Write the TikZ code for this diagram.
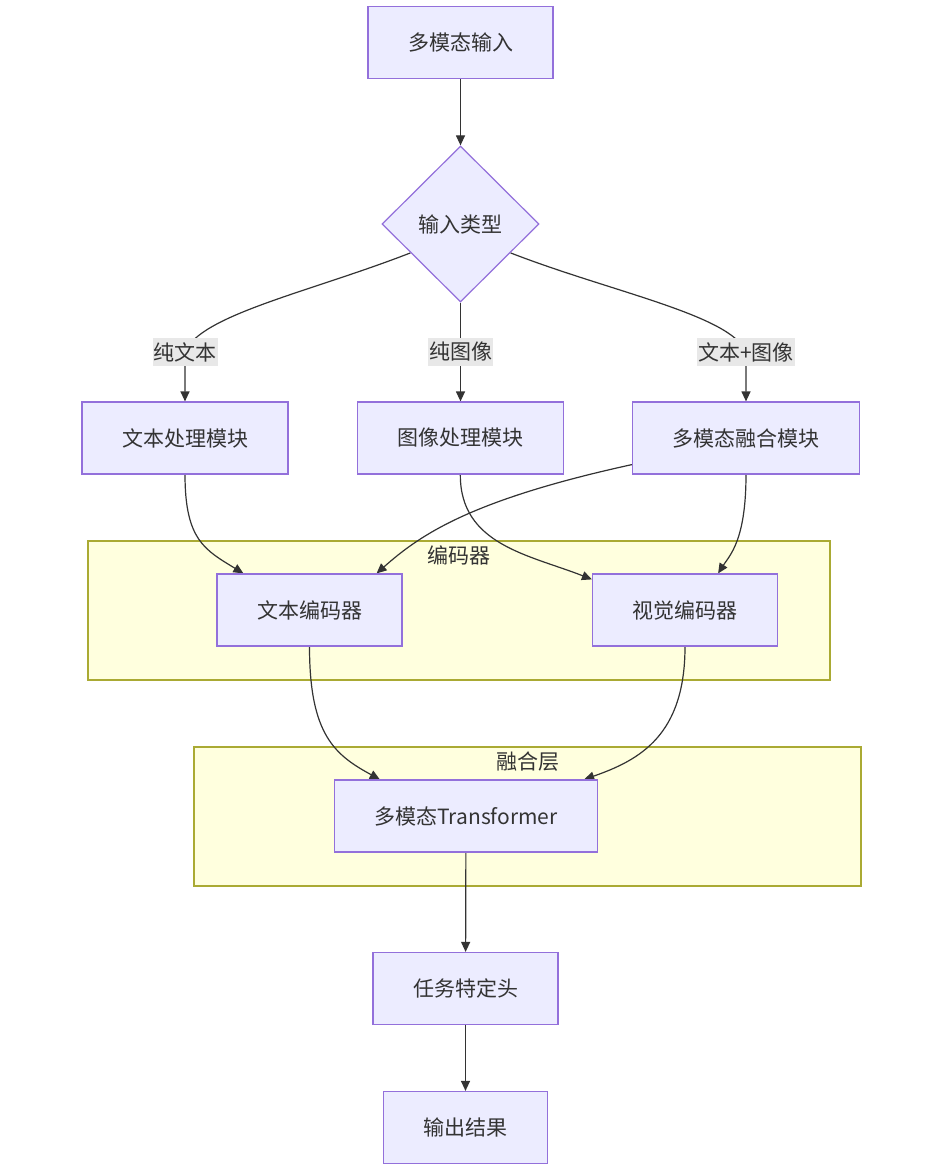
\documentclass[tikz,border=0pt]{standalone}
\usepackage{fontspec}
\setmainfont{Noto Sans CJK SC}
\usepackage{tikz}
\usetikzlibrary{arrows.meta,
                positioning,
                shapes.geometric}
\definecolor{boxfill}{HTML}{ECECFF}
\definecolor{boxline}{HTML}{9370DB}
\definecolor{grpfill}{HTML}{FFFFDE}
\definecolor{grpline}{HTML}{AAAA33}
\definecolor{edgecol}{HTML}{333333}
\definecolor{lblfill}{HTML}{E8E8E8}
\pgfdeclarelayer{bg}
\pgfsetlayers{bg,main}
\tikzstyle{box} = [draw=boxline, fill=boxfill, line width=1.2pt, minimum height=72pt, inner xsep=40pt, text=edgecol]
\tikzstyle{choice} = [diamond, draw=boxline, fill=boxfill, line width=1.2pt, minimum width=157pt, minimum height=156pt, inner sep=0pt, text=edgecol]
\tikzstyle{lbl} = [fill=lblfill, inner xsep=1pt, inner ysep=4pt, text=edgecol]
\tikzstyle{grp} = [draw=grpline, fill=grpfill, line width=1.2pt]
\tikzstyle{arrow} = [line width=1.2pt, draw=edgecol, -{Triangle[length=10pt,width=9pt]}]

\begin{document}
\begin{tikzpicture}[x=1pt, y=-1pt, font=\fontsize{21}{25}\selectfont]

    % groups
    \begin{pgfonlayer}{bg}
    \fill[white] (0,0) rectangle (934,1173);
    \node[grp, minimum width=742pt, minimum height=139pt] (encgrp) at (459,610.5) {};
    \node[grp, minimum width=667pt, minimum height=139pt] (fusgrp) at (527.5,816.5) {};
    \end{pgfonlayer}
    \useasboundingbox (0,0) rectangle (934,1173);

    \node[below=2pt of encgrp.north, text=edgecol] (encname) {编码器};
    \node[below=2pt of fusgrp.north, text=edgecol] (fusname) {融合层};

    \node[box] (in) at (460.5,42.5) {多模态输入};
    \node[choice] (typ) at (460.5,224) {输入类型};

    \node[lbl] (lt) at (185,352) {纯文本};
    \node[lbl] (li) at (460.5,352) {纯图像};
    \node[lbl] (lm) at (746,352) {文本+图像};

    \node[box] (tproc) at (185,438) {文本处理模块};
    \node[box] (iproc) at (460.5,438) {图像处理模块};
    \node[box] (mproc) at (746,438) {多模态融合模块};

    \node[box] (tenc) at (309.5,610) {文本编码器};
    \node[box] (venc) at (685,610) {视觉编码器};

    \node[box] (trans) at (466,816) {多模态Transformer};
    \node[box] (head) at (465.5,988.5) {任务特定头};
    \node[box] (out) at (465.5,1127.5) {输出结果};

    % edges
    \begin{pgfonlayer}{bg}
    \draw[arrow] (in) -- (typ);
    \draw[arrow] (typ.210) .. controls (310,292) and (200,315) .. (lt.center) -- (tproc);
    \draw[arrow] (typ) -- (iproc);
    \draw[arrow] (typ.330) .. controls (611,292) and (731,315) .. (lm.center) -- (mproc);

    \draw[arrow] (tproc) .. controls (185,540) and (205,550) .. ([xshift=27pt]tenc.north west);
    \draw[arrow] ([yshift=10pt]mproc.south west) .. controls (470,500) and (420,535) .. ([xshift=-26pt]tenc.north east);
    \draw[arrow] (iproc) .. controls (460,545) and (530,555) .. ([yshift=-6pt]venc.north west);
    \draw[arrow] (mproc) .. controls (746,540) and (730,555) .. ([xshift=-60pt]venc.north east);

    \draw[arrow] (tenc) .. controls (309.5,735) and (335,755) .. ([xshift=46pt]trans.north west);
    \draw[arrow] (venc) .. controls (685,735) and (640,760) .. ([xshift=-14pt]trans.north east);
    \draw[arrow] (trans) -- (head);
    \draw[arrow] (head) -- (out);
    \end{pgfonlayer}
\end{tikzpicture}
\end{document}
